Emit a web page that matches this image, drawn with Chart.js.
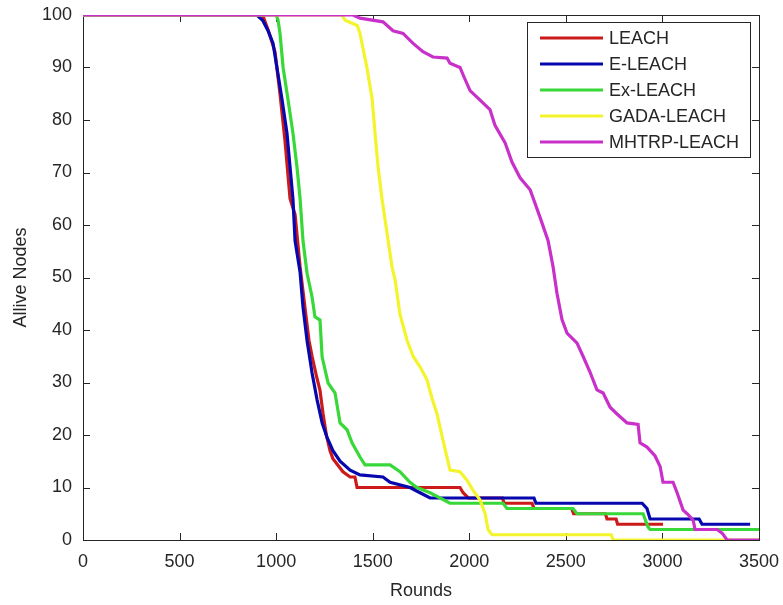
<!DOCTYPE html>
<html>
<head>
<meta charset="utf-8">
<script src="https://cdn.jsdelivr.net/npm/chart.js@4.4.1/dist/chart.umd.min.js"></script>
<style>
  html, body { margin: 0; padding: 0; background: #ffffff; }
  #wrap { width: 783px; height: 605px; position: relative; }
</style>
</head>
<body>
<div id="wrap"><canvas id="c" width="783" height="605"></canvas></div>
<script>
// ---- Data ----
const seriesNames = ["LEACH", "E-LEACH", "Ex-LEACH", "GADA-LEACH", "MHTRP-LEACH"];

const leachRounds = [0, 930, 960, 994, 1020, 1046, 1072, 1098, 1124, 1150, 1170, 1186, 1210, 1227, 1243, 1260, 1279, 1294, 1346, 1383, 1408, 1419, 1952, 1968, 1995, 2172, 2180, 2325, 2335, 2530, 2540, 2705, 2713, 2760, 2768, 3003];
const leachAlive  = [100, 100, 97, 93, 85, 76, 65, 62, 52, 44, 38, 35, 31, 28.5, 24, 20, 17, 15.5, 13, 12, 12, 10, 10, 9, 8, 8, 7, 7, 6, 6, 5, 5, 4, 4, 3, 3];

const eleachRounds = [0, 900, 930, 958, 984, 1004, 1030, 1056, 1072, 1087, 1098, 1124, 1139, 1160, 1186, 1212, 1238, 1263, 1294, 1331, 1383, 1434, 1553, 1590, 1693, 1745, 1797, 2335, 2345, 2895, 2920, 2936, 3190, 3205, 3454];
const eleachAlive  = [100, 100, 99, 97, 94.6, 90, 84, 77.5, 71, 65, 57, 51, 44.4, 38, 31.8, 26.7, 22.3, 19.6, 17, 15, 13.3, 12.4, 12, 11, 10, 9, 8, 8, 7, 7, 6, 4, 4, 3, 3];

const exleachRounds = [0, 1000, 1010, 1020, 1036, 1061, 1087, 1108, 1124, 1139, 1160, 1186, 1201, 1227, 1238, 1269, 1305, 1331, 1367, 1393, 1434, 1460, 1590, 1641, 1693, 1729, 1797, 1900, 2071, 2175, 2195, 2537, 2558, 2900, 2925, 2936, 3500];
const exleachAlive  = [100, 100, 99, 96.5, 90, 84, 77.5, 71, 65, 57, 50.8, 46.3, 42.5, 41.9, 34.9, 29.9, 28, 22.3, 21, 18.5, 15.8, 14.3, 14.3, 13, 11, 10, 9, 7, 7, 7, 6, 6, 5, 5, 2.5, 2, 2];

const gadaRounds = [0, 1340, 1357, 1420, 1434, 1470, 1497, 1512, 1528, 1548, 1574, 1600, 1616, 1641, 1678, 1709, 1745, 1781, 1807, 1833, 1864, 1900, 1952, 1988, 2019, 2056, 2082, 2097, 2118, 2735, 2745, 3500];
const gadaAlive  = [100, 100, 99, 98, 96.5, 90, 84, 77.5, 71, 65, 58.5, 52, 49.5, 43, 38, 35, 33, 30.5, 27, 24, 19, 13.3, 13, 11.4, 9.5, 7.6, 5, 2, 1, 1, 0, 0];

const mhtrpRounds = [0, 1398, 1434, 1553, 1605, 1657, 1709, 1760, 1812, 1885, 1900, 1952, 1975, 2004, 2056, 2107, 2133, 2185, 2221, 2263, 2315, 2366, 2408, 2434, 2454, 2480, 2506, 2558, 2589, 2625, 2661, 2693, 2729, 2765, 2817, 2874, 2884, 2920, 2962, 2988, 3003, 3055, 3076, 3107, 3128, 3159, 3169, 3283, 3309, 3335, 3500];
const mhtrpAlive  = [100, 100, 99.4, 98.7, 97, 96.5, 94.6, 93, 92, 91.8, 90.8, 90, 88, 85.6, 83.8, 82, 79, 75.7, 72, 69, 66.7, 61.5, 57, 52, 47, 42, 39.4, 37.5, 35, 32, 28.6, 28, 25.3, 24, 22.3, 22, 18.5, 17.7, 16, 14, 11, 11, 9, 5.7, 5, 3.8, 2, 2, 1.3, 0, 0];

const xTickValues = [0, 500, 1000, 1500, 2000, 2500, 3000, 3500];
const yTickValues = [0, 10, 20, 30, 40, 50, 60, 70, 80, 90, 100];

const seriesColors = ["#cc1a1a", "#0707b0", "#39d839", "#f4f42c", "#c930c9"];

// ---- Build datasets ----
function pts(xs, ys) { return xs.map((x, i) => ({ x: x, y: ys[i] })); }
const allRounds = [leachRounds, eleachRounds, exleachRounds, gadaRounds, mhtrpRounds];
const allAlive = [leachAlive, eleachAlive, exleachAlive, gadaAlive, mhtrpAlive];

const datasets = seriesNames.map((name, i) => ({
  label: name,
  data: pts(allRounds[i], allAlive[i]),
  borderColor: seriesColors[i],
  backgroundColor: seriesColors[i],
  borderWidth: 3.2,
  pointRadius: 0,
  tension: 0,
  fill: false,
  order: seriesNames.length - 1 - i   // later series drawn on top, like MATLAB
}));

const AXIS_COLOR = "#262626";
const FONT = "'Liberation Sans', Arial, Helvetica, sans-serif";

// Box + inward ticks (MATLAB style)
const boxPlugin = {
  id: 'boxTicks',
  beforeDatasetsDraw(chart) {
    const { ctx, chartArea: a, scales } = chart;
    ctx.save();
    ctx.strokeStyle = AXIS_COLOR;
    ctx.lineWidth = 1;
    ctx.strokeRect(Math.round(a.left) + 0.5, Math.round(a.top) + 0.5, Math.round(a.right - a.left), Math.round(a.bottom - a.top));
    const tl = 7;
    ctx.beginPath();
    xTickValues.forEach(v => {
      const px = Math.round(scales.x.getPixelForValue(v)) + 0.5;
      ctx.moveTo(px, a.bottom); ctx.lineTo(px, a.bottom - tl);
      ctx.moveTo(px, a.top); ctx.lineTo(px, a.top + tl);
    });
    yTickValues.forEach(v => {
      const py = Math.round(scales.y.getPixelForValue(v)) + 0.5;
      ctx.moveTo(a.left, py); ctx.lineTo(a.left + tl, py);
      ctx.moveTo(a.right, py); ctx.lineTo(a.right - tl, py);
    });
    ctx.stroke();
    ctx.restore();
  }
};

// Legend box in upper right of plot area
const legendPlugin = {
  id: 'boxLegend',
  afterDatasetsDraw(chart) {
    const { ctx, chartArea: a } = chart;
    const boxRight = a.right - 9;
    const boxW = 223, boxTop = a.top + 7, rowH = 26;
    const n = chart.data.datasets.length;
    const boxH = rowH * n + 5;
    const boxLeft = boxRight - boxW;
    ctx.save();
    ctx.fillStyle = "#ffffff";
    ctx.fillRect(boxLeft, boxTop, boxW, boxH);
    ctx.strokeStyle = AXIS_COLOR;
    ctx.lineWidth = 1;
    ctx.strokeRect(Math.round(boxLeft) + 0.5, Math.round(boxTop) + 0.5, Math.round(boxW), Math.round(boxH));
    ctx.font = "18px " + FONT;
    ctx.textBaseline = "middle";
    ctx.textAlign = "left";
    seriesNames.forEach((name, i) => {
      const yy = boxTop + 16 + i * rowH;
      ctx.strokeStyle = seriesColors[i];
      ctx.lineWidth = 3.2;
      ctx.beginPath();
      ctx.moveTo(boxLeft + 13, yy);
      ctx.lineTo(boxLeft + 76, yy);
      ctx.stroke();
      ctx.fillStyle = AXIS_COLOR;
      ctx.fillText(name, boxLeft + 82, yy + 1);
    });
    ctx.restore();
  }
};

new Chart(document.getElementById('c'), {
  type: 'line',
  data: { datasets: datasets },
  options: {
    responsive: false,
    animation: false,
    devicePixelRatio: 1,
    layout: { padding: { top: 15, right: 24, bottom: 0, left: 0 } },
    plugins: {
      legend: { display: false },
      tooltip: { enabled: false }
    },
    scales: {
      x: {
        type: 'linear',
        min: 0, max: 3500,
        afterBuildTicks(scale) { scale.ticks = xTickValues.map(v => ({ value: v })); },
        afterFit(scale) { scale.height = 65; scale.paddingLeft = 0; scale.paddingRight = 0; },
        grid: { display: false, drawTicks: false },
        border: { display: false },
        ticks: { padding: 11, color: AXIS_COLOR, font: { family: FONT, size: 18 }, maxRotation: 0, autoSkip: false, callback: v => String(v) },
        title: { display: true, text: 'Rounds', color: AXIS_COLOR, font: { family: FONT, size: 18 }, padding: { top: 0, bottom: 3 } }
      },
      y: {
        type: 'linear',
        min: 0, max: 100,
        afterBuildTicks(scale) { scale.ticks = yTickValues.map(v => ({ value: v })); },
        afterFit(scale) { scale.width = 83; scale.paddingTop = 0; scale.paddingBottom = 0; },
        grid: { display: false, drawTicks: false },
        border: { display: false },
        ticks: { padding: 11, color: AXIS_COLOR, font: { family: FONT, size: 18 }, autoSkip: false, callback: v => String(v) },
        title: { display: true, text: 'Allive Nodes', color: AXIS_COLOR, font: { family: FONT, size: 18 }, padding: { top: 10, bottom: 0 } }
      }
    }
  },
  plugins: [boxPlugin, legendPlugin]
});
</script>
</body>
</html>
